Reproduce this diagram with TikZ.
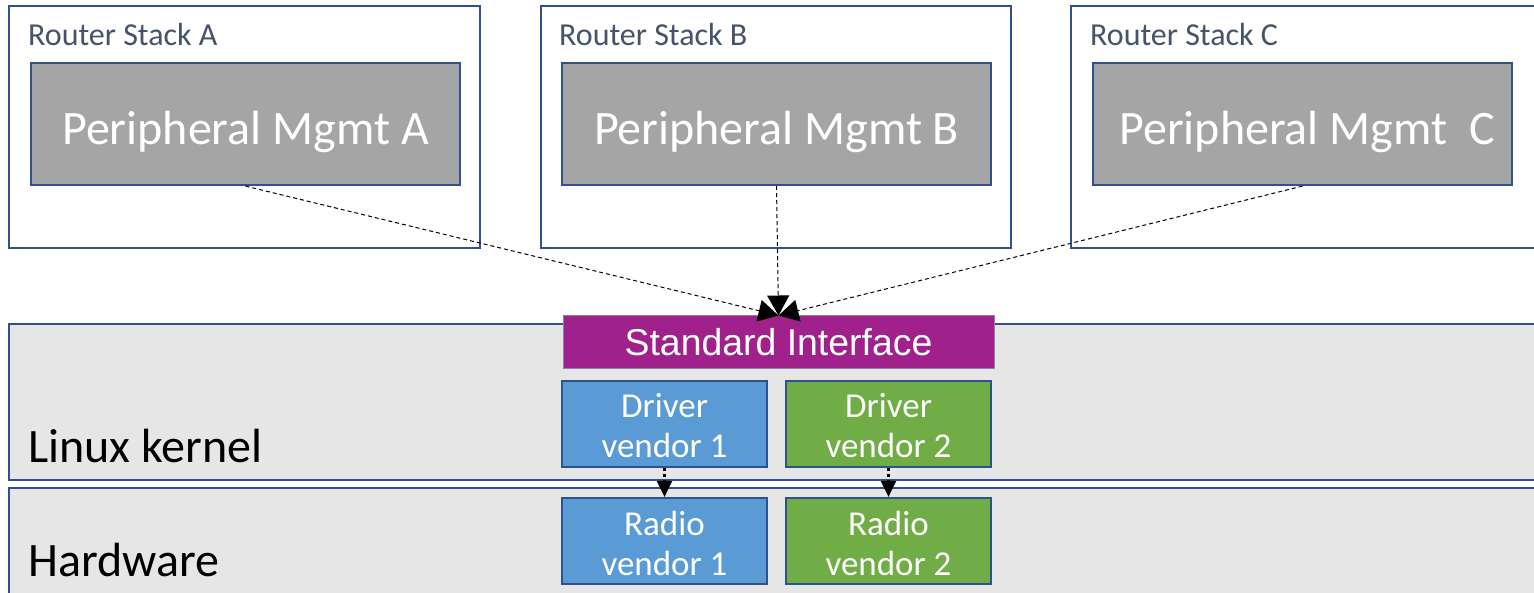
\documentclass[tikz,border=0pt]{standalone}
\usepackage{fontspec}
\setmainfont{Carlito}
\newfontfamily\arialf{Liberation Sans}
\usetikzlibrary{arrows.meta}
\definecolor{edge}{HTML}{2F528F}
\definecolor{pmgray}{HTML}{A5A5A5}
\definecolor{sipurple}{HTML}{A0208C}
\definecolor{vblue}{HTML}{5B9BD5}
\definecolor{vgreen}{HTML}{70AD47}
\definecolor{layer}{HTML}{E6E6E6}
\definecolor{labeltext}{HTML}{44546A}
\definecolor{siedge}{HTML}{8A7FB0}
\begin{document}
\begin{tikzpicture}[x=1pt,y=-1pt,
  stackbox/.style={draw=edge, line width=2.2pt, fill=white, anchor=north west, inner sep=0pt},
  layerbox/.style={draw=edge, line width=2.2pt, fill=layer, anchor=north west, inner sep=0pt},
  pmbox/.style={draw=edge, line width=2.2pt, fill=pmgray, inner sep=0pt,
    minimum width=429pt, minimum height=122pt},
  pmtext/.style={anchor=base, text=white, inner sep=0pt, font=\fontsize{48}{58}\selectfont},
  sibox/.style={draw=siedge, line width=1pt, fill=sipurple, text=white, inner sep=0pt,
    minimum width=431pt, minimum height=53pt, font=\arialf\fontsize{37.4}{44}\selectfont},
  vbox/.style={draw=edge, line width=2.2pt, inner sep=0pt,
    minimum width=205pt, minimum height=86pt},
  vtext/.style={text=white, inner sep=0pt, align=center, font=\fontsize{35}{40}\selectfont},
  stacklabel/.style={anchor=base west, text=labeltext, inner sep=0pt, font=\fontsize{32}{38}\selectfont},
  layerlabel/.style={anchor=base west, text=black, inner sep=0pt, font=\fontsize{48}{58}\selectfont},
  dasharrow/.style={line width=1pt, dash pattern=on 4pt off 3pt, -{Triangle[width=22pt,length=20pt]}},
  dotarrow/.style={line width=2.5pt, dash pattern=on 2.5pt off 3.5pt, -{Triangle[width=15pt,length=16pt]}}
]
\useasboundingbox (0,0) rectangle (1534,593);
% router stacks
\node[stackbox, minimum width=471pt, minimum height=242pt] (sa) at (8,5) {};
\node[stackbox, minimum width=470pt, minimum height=242pt] (sb) at (540,5) {};
\node[stackbox, minimum width=480pt, minimum height=242pt] (sc) at (1070,5) {};
\node[stacklabel] (la) at (28,46) {Router Stack A};
\node[stacklabel] (lb) at (559,46) {Router Stack B};
\node[stacklabel] (lc) at (1090,46) {Router Stack C};
\node[pmbox] (pa) at (245.5,124) {};
\node[pmbox] (pb) at (776.5,124) {};
\node[pmbox, minimum width=419pt] (pc) at (1302.5,124) {};
\node[pmtext] (pat) at (245.5,145) {Peripheral Mgmt A};
\node[pmtext] (pbt) at (776.5,145) {Peripheral Mgmt B};
\node[pmtext] (pct) at (1307,145) {Peripheral Mgmt\ \ C};
% layers
\node[layerbox, minimum width=1540pt, minimum height=156pt] (lk) at (8,323) {};
\node[layerbox, minimum width=1540pt, minimum height=120pt] (hw) at (8,487) {};
\node[layerlabel] (lkl) at (28,462) {Linux kernel};
\node[layerlabel] (hwl) at (28,576) {Hardware};
% interface and vendors
\node[sibox] (si) at (778.5,342.5) {Standard Interface};
\node[vbox, fill=vblue] (d1) at (664.5,424) {};
\node[vbox, fill=vgreen] (d2) at (888.5,424) {};
\node[vbox, fill=vblue] (r1) at (664.5,541) {};
\node[vbox, fill=vgreen] (r2) at (888.5,541) {};
\node[vtext] (d1t) at (664.5,426) {Driver\\vendor 1};
\node[vtext] (d2t) at (888.5,426) {Driver\\vendor 2};
\node[vtext] (r1t) at (664.5,543) {Radio\\vendor 1};
\node[vtext] (r2t) at (888.5,543) {Radio\\vendor 2};
% connectors
\draw[dasharrow] (pa.south) -- (si.north);
\draw[dasharrow] (pb.south) -- (si.north);
\draw[dasharrow] (pc.south) -- (si.north);
\draw[dotarrow] (d1.south) -- (r1.north);
\draw[dotarrow] (d2.south) -- (r2.north);
\end{tikzpicture}
\end{document}
